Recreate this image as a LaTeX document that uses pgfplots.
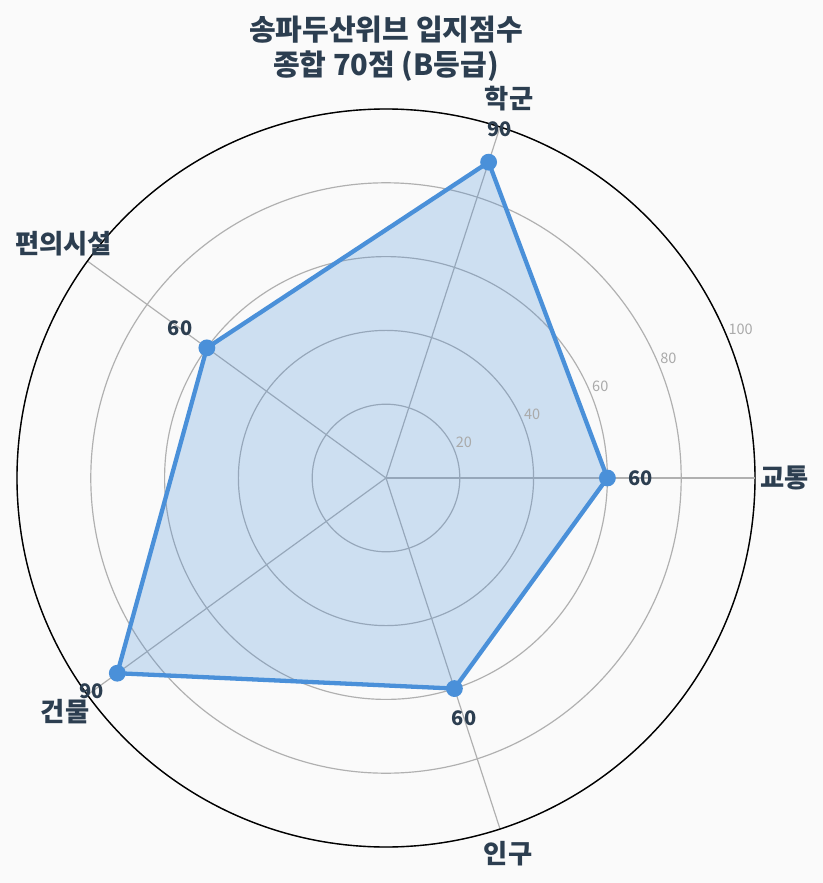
\documentclass[border=0pt]{standalone}
\usepackage{pgfplots}
\pgfplotsset{compat=1.18}
\usepgfplotslibrary{polar}
\usepackage{fontspec}
\setmainfont{Noto Sans CJK KR}
\definecolor{bgc}{HTML}{FAFAFA}
\definecolor{lineblue}{HTML}{4A90D9}
\definecolor{navy}{HTML}{2C3E50}
\definecolor{gridc}{HTML}{B0B0B0}
\definecolor{tickc}{HTML}{AAAAAA}
\begin{document}
\begin{tikzpicture}
\fill[bgc] (-3.86in,-4.05in) rectangle (4.37in,4.78in);
\begin{polaraxis}[
    at={(0,0)}, anchor=center,
    scale only axis, width=7.38in, height=7.38in,
    clip=false,
    ymin=0, ymax=100,
    xtick={0,72,144,216,288}, xticklabels={},
    ytick={20,40,60,80,100}, yticklabels={},
    grid=major,
    major grid style={gridc, line width=0.85pt},
    major tick length=0pt,
    x axis line style={black, line width=1pt},
    y axis line style={gridc, line width=0.85pt},
]
% radial tick labels
\addplot[draw=none, nodes near coords, point meta=explicit symbolic,
    every node near coord/.append style={anchor=south west, inner sep=1pt,
      font=\fontsize{10.5}{12}\selectfont, text=tickc}]
coordinates {(22.5,20)[20] (22.5,40)[40] (22.5,60)[60] (22.5,80)[80] (22.5,100)[100]};
% data
\addplot[lineblue, line width=3.1pt, fill=lineblue, fill opacity=0.25,
    mark=*, mark size=4.5pt, mark options={fill=lineblue, fill opacity=1}]
coordinates {(0,60) (72,90) (144,60) (216,90) (288,60)} -- cycle;
% value labels
\addplot[draw=none, nodes near coords, point meta=explicit symbolic,
    every node near coord/.append style={anchor=center,
      font=\fontsize{14.5}{16}\selectfont\bfseries, text=navy}]
coordinates {(0,69)[60] (72,99.3)[90] (144,69)[60] (216,98.5)[90] (288,68.5)[60]};
% category labels
\addplot[draw=none, nodes near coords, point meta=explicit symbolic,
    every node near coord/.append style={anchor=center,
      font=\fontsize{19}{21}\selectfont\bfseries, text=navy}]
coordinates {(0,108)[교통] (72,108)[학군] (144,108)[편의시설] (216,107.5)[건물] (288,107)[인구]};
\end{polaraxis}
\node[font=\fontsize{21}{25}\selectfont\bfseries, text=navy] at (0in,4.48in) {송파두산위브 입지점수};
\node[font=\fontsize{21}{25}\selectfont\bfseries, text=navy] at (0in,4.12in) {종합 70점 (B등급)};
\pgfresetboundingbox
\path[use as bounding box] (-3.86in,-4.05in) rectangle (4.37in,4.78in);
\end{tikzpicture}
\end{document}
